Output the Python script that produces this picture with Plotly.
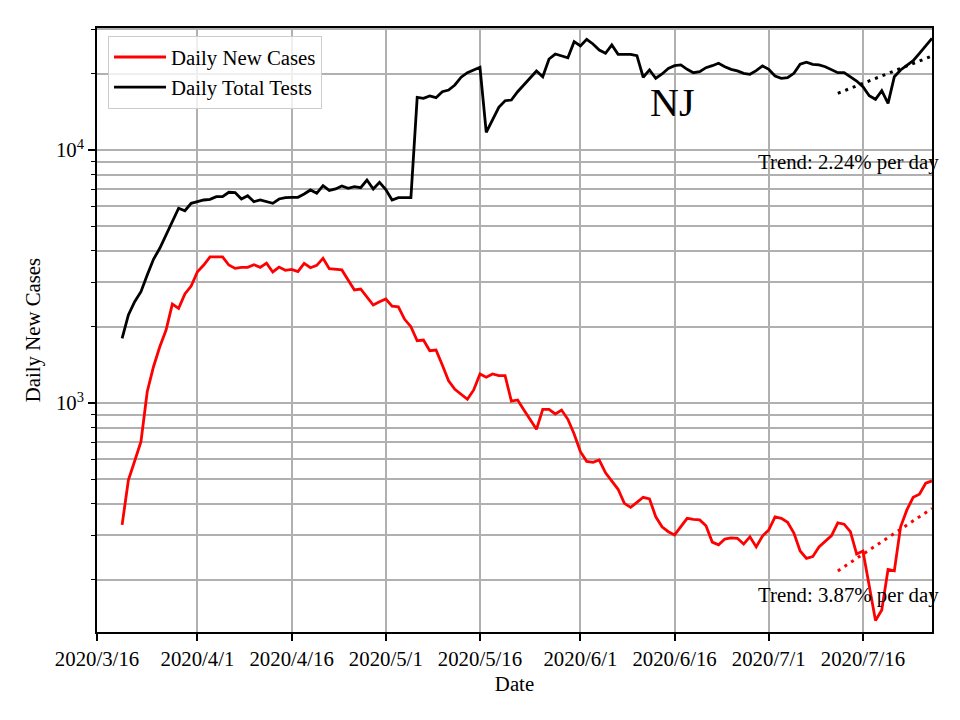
import pandas as pd
import plotly.graph_objects as go

# ---- data ----
dates = pd.date_range("2020-03-20", "2020-07-27", freq="D")

daily_new_cases = [
    330, 496, 590, 703, 1108, 1391, 1669, 1943, 2460, 2366,
    2698, 2898, 3304, 3512, 3784, 3784, 3784, 3512, 3404, 3436,
    3436, 3521, 3436, 3573, 3296, 3445, 3346, 3376, 3304, 3564,
    3425, 3500, 3732, 3396, 3366, 3357, 3062, 2797, 2822, 2632,
    2439, 2514, 2576, 2415, 2400, 2142, 2003, 1763, 1773, 1610,
    1620, 1413, 1225, 1133, 1085, 1034, 1126, 1302, 1264, 1302,
    1282, 1282, 1018, 1028, 938, 862, 787, 944, 944, 905,
    938, 862, 754, 642, 588, 583, 595, 530, 492, 456,
    401, 387, 405, 424, 418, 355, 324, 310, 301, 324,
    350, 347, 345, 327, 282, 275, 290, 293, 292, 277,
    296, 270, 298, 315, 355, 350, 338, 306, 260, 243,
    247, 270, 285, 299, 336, 332, 310, 253, 260, 188,
    138, 152, 220, 217, 324, 378, 424, 436, 482, 492,
]

daily_total_tests = [
    1802, 2228, 2514, 2755, 3206, 3700, 4088, 4613, 5241, 5884,
    5754, 6157, 6248, 6344, 6380, 6537, 6537, 6805, 6790, 6402,
    6598, 6248, 6344, 6248, 6157, 6402, 6479, 6503, 6503, 6699,
    6951, 6742, 7225, 6920, 7014, 7204, 7059, 7161, 7095, 7610,
    7014, 7452, 6982, 6344, 6479, 6479, 6479, 16155, 16010, 16350,
    16095, 17000, 17265, 18070, 19390, 20210, 20720, 21230, 11750, 13140,
    14750, 15660, 15760, 17000, 18070, 19210, 20530, 19490, 22890, 23950,
    23590, 23160, 26800, 25770, 27390, 26240, 24850, 24110, 26000, 23890,
    23890, 23890, 23590, 19390, 20720, 19210, 19970, 21000, 21540, 21680,
    20840, 20210, 20390, 21150, 21540, 22010, 21340, 20840, 20530, 20100,
    19920, 20580, 21480, 20840, 19610, 19210, 19310, 20100, 21820, 22220,
    21820, 21680, 21340, 20720, 20210, 20210, 19490, 18740, 17790, 16390,
    15860, 17150, 15290, 19490, 20720, 21680, 22540, 24110, 25770, 27640,
]

trend_dates = ["2020-07-12", "2020-07-27"]
cases_trend = [217, 383]
tests_trend = [16750, 23520]

x_tick_dates = ["2020-03-16", "2020-04-01", "2020-04-16", "2020-05-01", "2020-05-16",
                "2020-06-01", "2020-06-16", "2020-07-01", "2020-07-16"]
x_tick_labels = ["2020/3/16", "2020/4/1", "2020/4/16", "2020/5/1", "2020/5/16",
                 "2020/6/1", "2020/6/16", "2020/7/1", "2020/7/16"]
y_major = [1000, 10000]
y_major_labels = ["10<sup>3</sup>", "10<sup>4</sup>"]
y_minor = [200, 300, 400, 500, 600, 700, 800, 900,
           2000, 3000, 4000, 5000, 6000, 7000, 8000, 9000, 20000, 30000]

FONT = "Liberation Serif, Times New Roman, serif"
FS = 20.8
GRID = "#b0b0b0"

fig = go.Figure()
fig.add_trace(go.Scatter(x=dates, y=daily_new_cases, mode="lines", name="Daily New Cases",
                         line=dict(color="red", width=2.8)))
fig.add_trace(go.Scatter(x=dates, y=daily_total_tests, mode="lines", name="Daily Total Tests",
                         line=dict(color="black", width=2.8)))
fig.add_trace(go.Scatter(x=trend_dates, y=cases_trend, mode="lines", showlegend=False,
                         line=dict(color="red", width=3, dash="3px,5px")))
fig.add_trace(go.Scatter(x=trend_dates, y=tests_trend, mode="lines", showlegend=False,
                         line=dict(color="black", width=3, dash="3px,5px")))

fig.update_layout(
    width=960, height=720,
    margin=dict(l=97, r=28, t=28, b=88),
    paper_bgcolor="white", plot_bgcolor="white",
    font=dict(family=FONT, size=FS, color="black"),
    legend=dict(x=0.0132, y=0.9868, xanchor="left", yanchor="top",
                bgcolor="rgba(255,255,255,0.8)", bordercolor="#cccccc", borderwidth=1,
                itemwidth=52,
                font=dict(family=FONT, size=FS)),
    annotations=[
        dict(text="NJ", xref="paper", yref="paper", x=0.6886, y=0.877,
             xanchor="center", yanchor="middle", showarrow=False,
             font=dict(family=FONT, size=40, color="black")),
        dict(text="Trend: 2.24% per day", xref="paper", yref="paper", x=1.011, y=0.778,
             xanchor="right", yanchor="middle", showarrow=False,
             font=dict(family=FONT, size=FS, color="black")),
        dict(text="Trend: 3.87% per day", xref="paper", yref="paper", x=1.011, y=0.062,
             xanchor="right", yanchor="middle", showarrow=False,
             font=dict(family=FONT, size=FS, color="black")),
    ],
)

fig.update_xaxes(
    range=["2020-03-16", "2020-07-27"],
    tickmode="array", tickvals=x_tick_dates, ticktext=x_tick_labels,
    ticks="outside", ticklen=7, tickwidth=1.6, tickcolor="black",
    showgrid=True, gridcolor=GRID, gridwidth=1.6,
    showline=True, linecolor="black", linewidth=1.7, mirror=True,
    zeroline=False,
    title=dict(text="Date", standoff=8, font=dict(family=FONT, size=FS)),
    tickfont=dict(family=FONT, size=FS),
)

fig.update_yaxes(
    type="log", range=[2.0949, 4.4822],
    tickmode="array", tickvals=y_major, ticktext=y_major_labels,
    ticks="outside", ticklen=7, tickwidth=1.6, tickcolor="black",
    showgrid=True, gridcolor=GRID, gridwidth=1.6,
    minor=dict(tickmode="array", tickvals=y_minor, ticks="outside", ticklen=4,
               tickwidth=1.2, tickcolor="black", showgrid=True, gridcolor=GRID, gridwidth=1.6),
    showline=True, linecolor="black", linewidth=1.7, mirror=True,
    zeroline=False,
    title=dict(text="Daily New Cases", standoff=10, font=dict(family=FONT, size=FS)),
    tickfont=dict(family=FONT, size=FS),
)

fig.write_html("out.html", config={"displayModeBar": False},
               post_script="document.body.style.margin='0';")
